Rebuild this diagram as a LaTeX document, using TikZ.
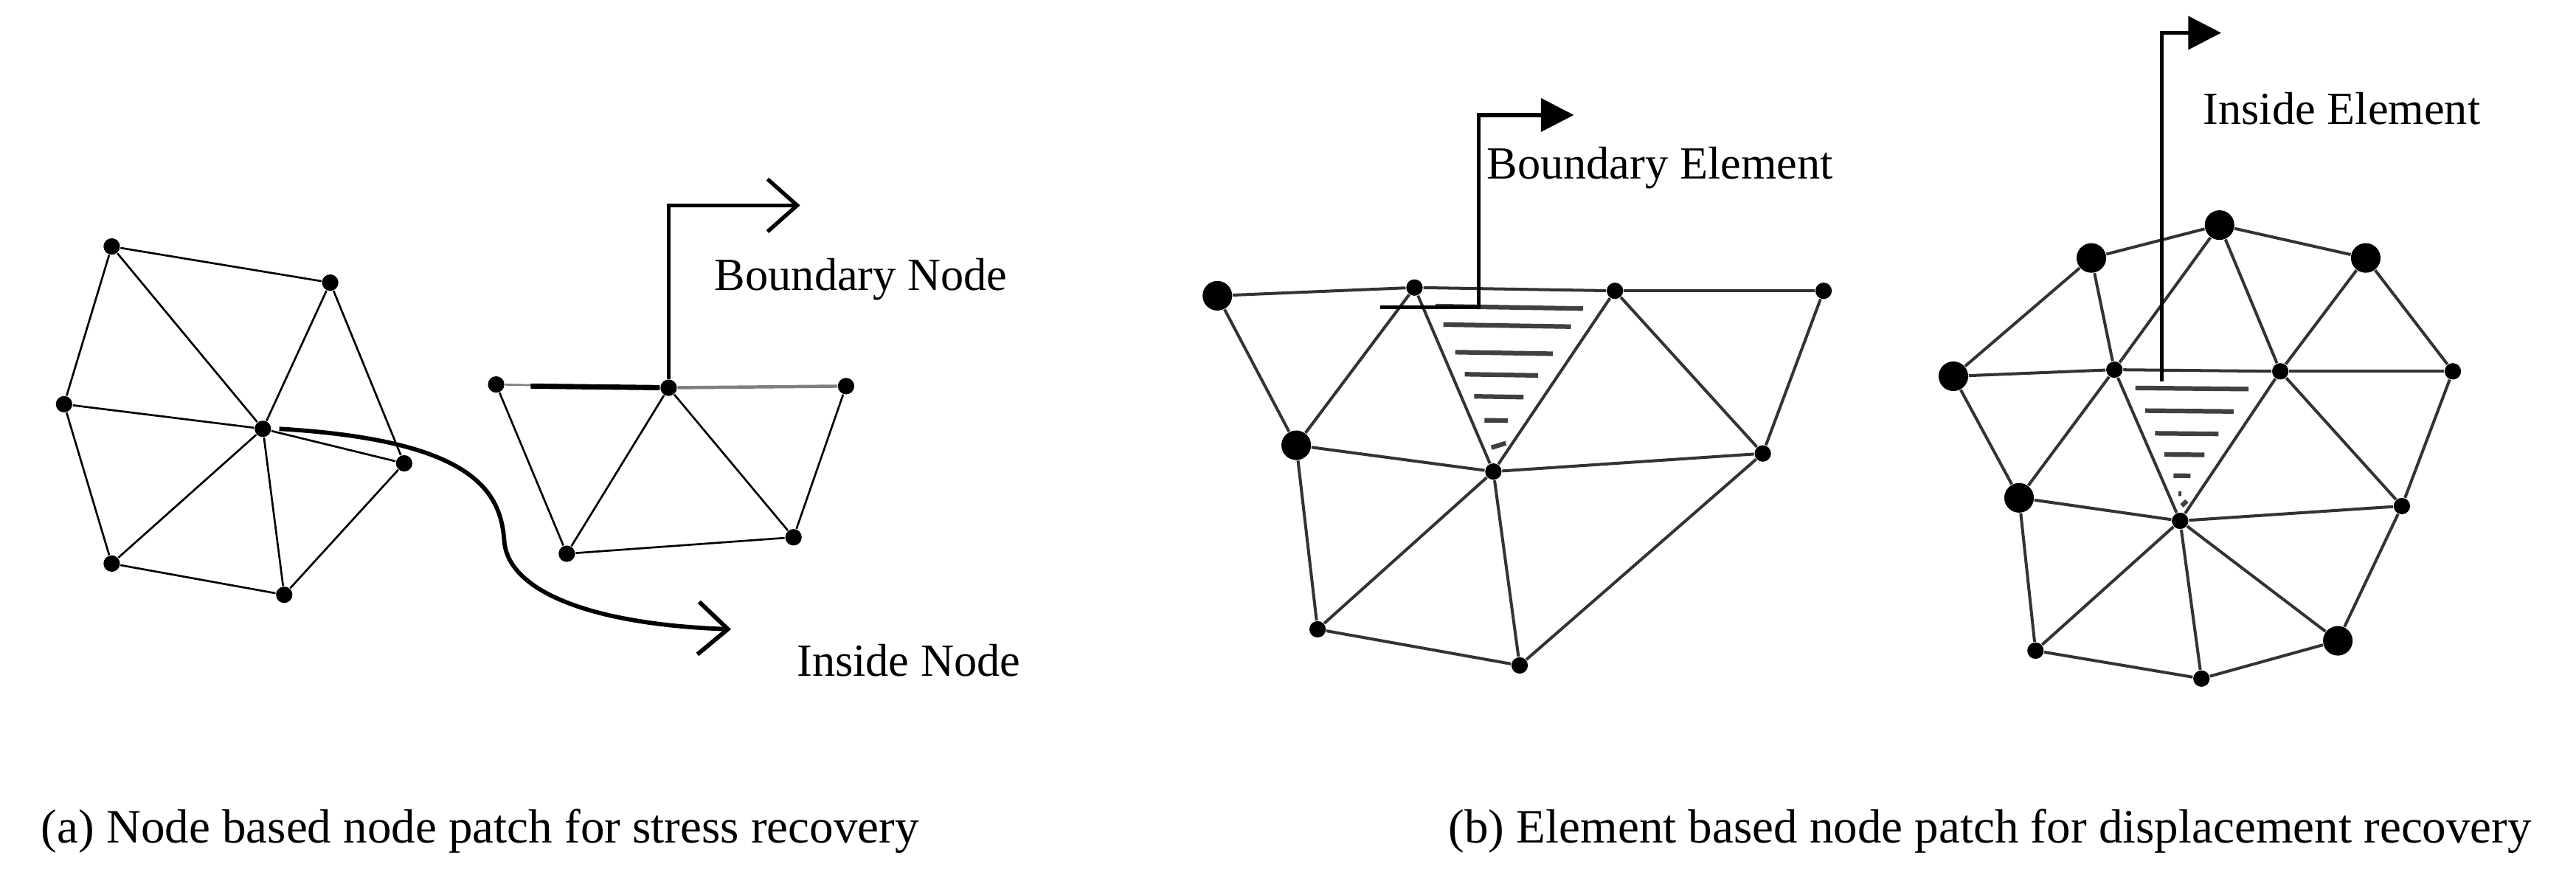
\documentclass[tikz,border=0pt]{standalone}
\usepackage{fontspec}
\setmainfont{Liberation Serif}
\usetikzlibrary{arrows.meta,calc}
\tikzstyle{dot}=[circle, fill=black, inner sep=0pt, minimum size=5pt]
\tikzstyle{bdot}=[circle, fill=black, inner sep=0pt, minimum size=9pt]
\tikzstyle{edge}=[-, line width=0.6pt]
\tikzstyle{medge}=[-, line width=0.9pt, draw=black!80]
\tikzstyle{hatch}=[-, line width=1.4pt, draw=black!75, shorten <=4pt, shorten >=6pt]
\tikzstyle{lbl}=[anchor=west, font=\fontsize{14}{16}\selectfont]
\tikzstyle{captxt}=[font=\fontsize{14.6}{17}\selectfont]
\begin{document}
\begin{tikzpicture}[x=0.5pt,y=-0.5pt]
\useasboundingbox (0,0) rectangle (1568,541);

% (a) node based patch
\node[dot] (p1) at (68,150) {};
\node[dot] (p2) at (201,172) {};
\node[dot] (p3) at (39,246) {};
\node[dot] (pc) at (160,261) {};
\node[dot] (p4) at (246,282) {};
\node[dot] (p5) at (68,343) {};
\node[dot] (p6) at (173,362) {};
\foreach \a/\b in {p1/p2,p1/p3,p1/pc,p2/pc,p2/p4,p3/pc,p3/p5,pc/p4,pc/p5,pc/p6,p4/p6,p5/p6}
  \draw[edge] (\a) -- (\b);

\node[dot] (q1) at (302,234) {};
\node[dot] (q2) at (407,236) {};
\node[dot] (q3) at (515,235) {};
\node[dot] (q4) at (345,337) {};
\node[dot] (q5) at (483,327) {};
\draw[edge, draw=black!50] (q1) -- (q2);
\draw[line width=1.6pt] (323,235) -- (q2);
\draw[edge, draw=black!50, line width=1pt] (q2) -- (q3);
\foreach \a/\b in {q1/q4,q2/q4,q2/q5,q3/q5,q4/q5}
  \draw[edge] (\a) -- (\b);

\coordinate (bn) at (487,125);
\draw[line width=1.2pt, -{Straight Barb[length=9pt,width=16pt]}] (q2) |- (bn);
\node[lbl] (bnl) at (428,170) {Boundary Node};

\coordinate (in) at (445,383);
\draw[line width=1.3pt, -{Straight Barb[length=9pt,width=16pt]}]
  (170,261) .. controls (290,268) and (305,300) .. (307,330)
  .. controls (310,360) and (360,380) .. (in);
\node[lbl] (inl) at (478,402) {Inside Node};

% (b) element based patch, boundary element
\node[bdot] (a1) at (741,180) {};
\node[dot] (a2) at (861,175) {};
\node[dot] (a3) at (983,177) {};
\node[dot] (a4) at (1110,177) {};
\node[bdot] (a5) at (789,271) {};
\node[dot] (a6) at (909,287) {};
\node[dot] (a7) at (1073,276) {};
\node[dot] (a8) at (802,383) {};
\node[dot] (a9) at (925,405) {};
\foreach \a/\b in {a1/a2,a2/a3,a3/a4,a1/a5,a5/a2,a2/a6,a3/a6,a3/a7,a4/a7,a5/a6,a6/a7,a5/a8,a8/a6,a6/a9,a8/a9,a7/a9}
  \draw[medge] (\a) -- (\b);
\foreach \t in {0.1,0.2,0.35,0.47,0.59,0.72}
  \draw[hatch] ($(a2)!\t!(a6)$) -- ($(a3)!\t!(a6)$);
\draw[hatch, shorten <=0pt, shorten >=0pt] ($(a2)!0.87!(a6)+(5,0)$) -- ($(a3)!0.87!(a6)+(-2,-3)$);

\coordinate (be) at (958,70);
\draw[line width=1.2pt, -{Triangle[length=10pt,width=10pt]}] (840,187) -| (900,120) |- (be);
\node[lbl] (bel) at (898,102) {Boundary Element};

% (b) inside element
\node[bdot] (b1) at (1273,157) {};
\node[bdot] (b2) at (1351,137) {};
\node[bdot] (b3) at (1440,157) {};
\node[bdot] (b4) at (1189,229) {};
\node[dot] (b5) at (1287,225) {};
\node[dot] (b6) at (1388,226) {};
\node[dot] (b7) at (1493,226) {};
\node[bdot] (b8) at (1229,303) {};
\node[dot] (b9) at (1327,317) {};
\node[dot] (b10) at (1462,308) {};
\node[dot] (b11) at (1239,396) {};
\node[dot] (b12) at (1340,413) {};
\node[bdot] (b13) at (1423,390) {};
\foreach \a/\b in {b1/b2,b2/b3,b1/b4,b1/b5,b2/b5,b2/b6,b3/b6,b3/b7,b4/b5,b5/b6,b6/b7,b4/b8,b5/b8,b5/b9,b6/b9,b6/b10,b7/b10,b8/b9,b9/b10,b8/b11,b9/b11,b9/b12,b9/b13,b10/b13,b11/b12,b12/b13}
  \draw[medge] (\a) -- (\b);
\foreach \t in {0.12,0.27,0.42,0.56,0.7,0.82}
  \draw[hatch] ($(b5)!\t!(b9)$) -- ($(b6)!\t!(b9)$);
\draw[hatch, shorten <=0pt, shorten >=0pt] ($(b5)!0.9!(b9)+(5,0)$) -- ($(b6)!0.9!(b9)+(-2,-3)$);

\coordinate (ie) at (1352,20);
\draw[line width=1.2pt, -{Triangle[length=10pt,width=10pt]}] (1316,232) |- (ie);
\node[lbl] (iel) at (1334,66) {Inside Element};

% captions
\node[captxt, anchor=west] (capa) at (18,506) {(a) Node based node patch for stress recovery};
\node[captxt, anchor=east] (capb) at (1548,506) {(b) Element based node patch for displacement recovery};
\end{tikzpicture}
\end{document}
